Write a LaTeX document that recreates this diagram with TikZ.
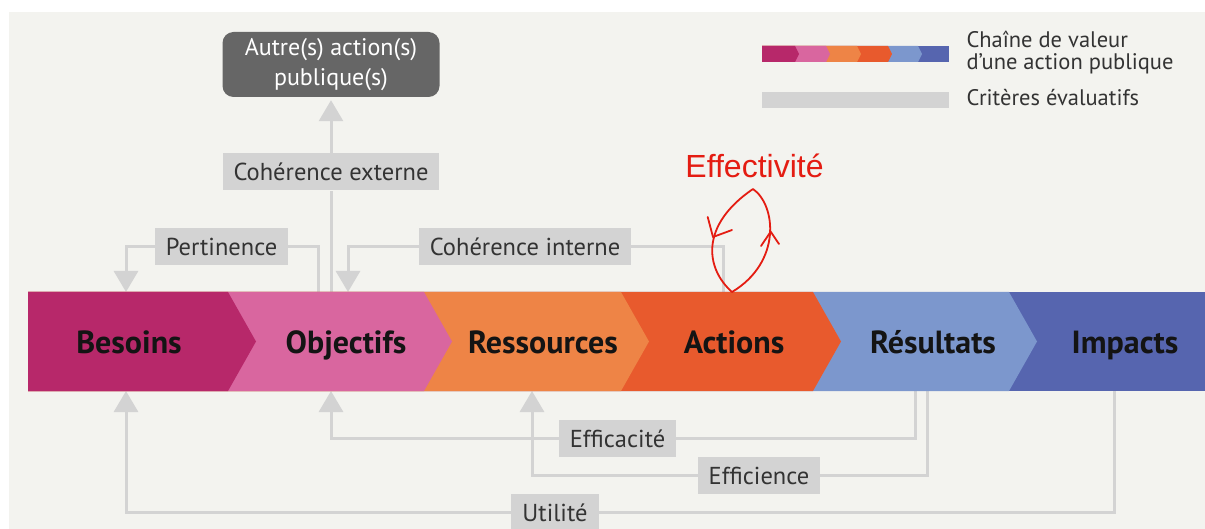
\documentclass[tikz,border=0pt]{standalone}
\usepackage{fontspec}
\setmainfont{PT Sans}
\newfontfamily\effectfont{Liberation Sans}
\usepackage{xcolor}
\definecolor{ChaineBesoins}{RGB}{183,40,106}
\definecolor{ChaineObjectifs}{RGB}{217,102,159}
\definecolor{ChaineRessources}{RGB}{238,132,70}
\definecolor{ChaineActions}{RGB}{232,90,45}
\definecolor{ChaineResultats}{RGB}{124,151,205}
\definecolor{ChaineImpacts}{RGB}{86,101,175}
\definecolor{CritereGris}{RGB}{211,211,211}
\definecolor{FondGris}{RGB}{243,243,239}
\definecolor{AutreGris}{RGB}{102,102,102}
\definecolor{TexteGris}{RGB}{51,51,51}
\definecolor{EffectRouge}{RGB}{228,28,18}
\usepackage{tikz}
\usetikzlibrary{positioning, arrows.meta}

\tikzset{
  critere/.style={fill=CritereGris, text=TexteGris, inner xsep=11pt, inner ysep=0pt,
    minimum height=37pt, text height=18pt, text depth=0pt, font=\fontsize{24.5}{28}\selectfont},
  lien/.style={draw=CritereGris, line width=3pt},
  lienfleche/.style={lien, -{Triangle[width=24pt, length=21pt]}},
  etape/.style={anchor=base, text=black!92, font=\fontsize{32}{36}\selectfont\bfseries},
  legende/.style={anchor=base west, text=TexteGris, font=\fontsize{22.5}{25}\selectfont},
  autre/.style={fill=AutreGris, text=white, rounded corners=11pt, minimum width=217pt,
    minimum height=65pt, align=center, inner sep=0pt, font=\fontsize{24}{30}\selectfont},
  boucle/.style={draw=EffectRouge, line width=1.8pt, line cap=round, line join=round},
}

\begin{document}
\begin{tikzpicture}[x=1pt, y=-1pt]
  \useasboundingbox (0,0) rectangle (1205,529);
  % Fond
  \fill[white] (0,0) rectangle (1205,529);
  \fill[FondGris] (9,12) rectangle (1205,529);

  % Points d'attache sur la chaine
  \coordinate (besHaut) at (126,292);
  \coordinate (objHautA) at (318,292);
  \coordinate (objHautB) at (331,292);
  \coordinate (objHautC) at (348,292);
  \coordinate (actHaut) at (723,292);
  \coordinate (besBas) at (126,391);
  \coordinate (objBas) at (331,391);
  \coordinate (resBas) at (532,391);
  \coordinate (resuBasA) at (915,391);
  \coordinate (resuBasB) at (927,391);
  \coordinate (impBas) at (1114,391);

  % Criteres evaluatifs
  \node[autre] (autre) at (331,64.5) {Autre(s) action(s)\\publique(s)};
  \node[critere] (cext) at (331,172) {Cohérence externe};
  \node[critere] (pert) at (221.5,246.5) {Pertinence};
  \node[critere] (cint) at (525,246.5) {Cohérence interne};
  \node[critere] (effa) at (617.5,438) {Efficacité};
  \node[critere] (effi) at (759,475) {Efficience};
  \node[critere] (util) at (555,512) {Utilité};

  \draw[lien] (objHautB) -- (cext.south);
  \draw[lienfleche] (cext.north) -- ([yshift=-3pt]autre.south);
  \draw[lien] (objHautA) |- (pert.east);
  \draw[lienfleche] (pert.west) -| (besHaut);
  \draw[lien] (actHaut) |- (cint.east);
  \draw[lienfleche] (cint.west) -| (objHautC);
  \draw[lien] (resuBasA) |- (effa.east);
  \draw[lienfleche] (effa.west) -| (objBas);
  \draw[lien] (resuBasB) |- (effi.east);
  \draw[lienfleche] (effi.west) -| (resBas);
  \draw[lien] (impBas) |- (util.east);
  \draw[lienfleche] (util.west) -| (besBas);

  % Chaine de valeur
  \fill[ChaineImpacts] (28,292) rectangle (1205,391);
  \foreach \xr/\col in {1009/ChaineResultats, 813/ChaineActions, 621/ChaineRessources,
      424/ChaineObjectifs, 228/ChaineBesoins}
    \fill[\col] (28,292) -- (\xr,292) -- ++(28,49.5) -- (\xr,391) -- (28,391) -- cycle;

  \node[etape] (besoins) at (129,353) {Besoins};
  \node[etape] (objectifs) at (346,353) {Objectifs};
  \node[etape] (ressources) at (543,353) {Ressources};
  \node[etape] (actions) at (734,353) {Actions};
  \node[etape] (resultats) at (933,353) {Résultats};
  \node[etape] (impacts) at (1125,353) {Impacts};

  % Legende
  \fill[ChaineImpacts] (762,46) rectangle (949,62);
  \foreach \xr/\col in {918/ChaineResultats, 888/ChaineActions, 857/ChaineRessources,
      826/ChaineObjectifs, 795/ChaineBesoins}
    \fill[\col] (762,46) -- (\xr,46) -- ++(4,8) -- (\xr,62) -- (762,62) -- cycle;
  \fill[CritereGris] (762,92) rectangle (949,108);
  \node[legende] (legChaineA) at (963,48) {Chaîne de valeur};
  \node[legende] (legChaineB) at (963,70) {d’une action publique};
  \node[legende] (legCritere) at (963,106) {Critères évaluatifs};

  % Effectivite (annotation a la main)
  \coordinate (boucleBas) at (732,292);
  \coordinate (boucleHaut) at (753,189);
  \draw[boucle] (boucleBas) .. controls (705,268) and (700,225) .. (boucleHaut)
    .. controls (776,205) and (782,262) .. (boucleBas);
  \draw[boucle] (707.7,217) -- (713,237) -- (732,230);
  \draw[boucle] (761,246) -- (770.7,231.7) -- (779,244);
  \node[anchor=base, text=EffectRouge, font=\effectfont\fontsize{32}{38}\selectfont]
    (effect) at (754.5,178) {Effectivité};
\end{tikzpicture}
\end{document}
